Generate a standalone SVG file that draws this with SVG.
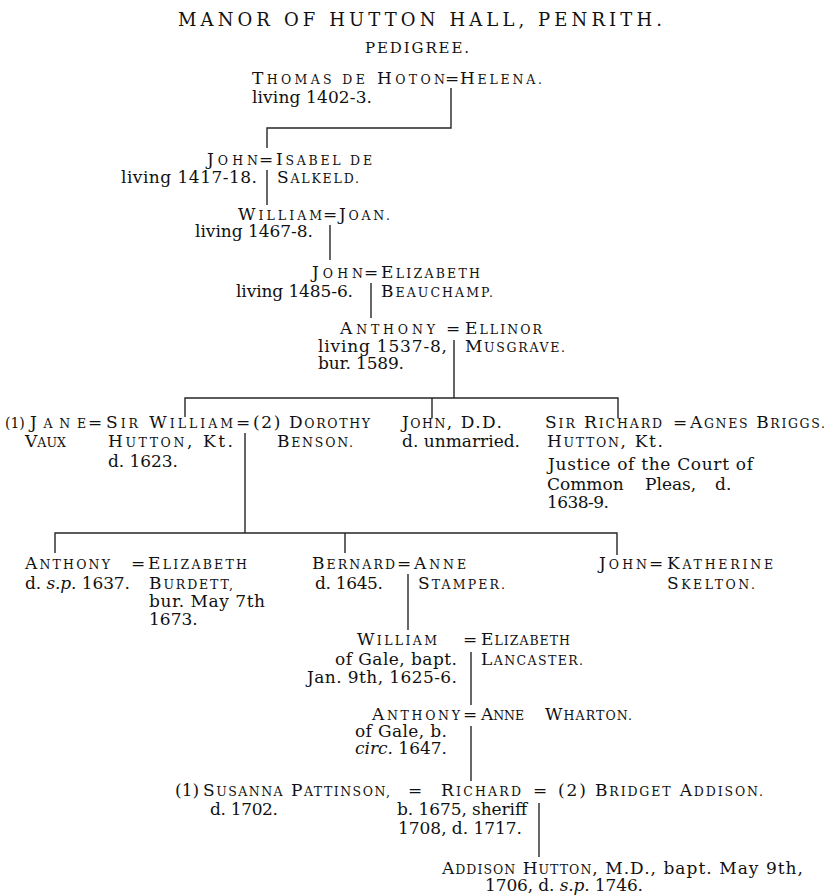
<svg xmlns="http://www.w3.org/2000/svg" width="833" height="895" viewBox="0 0 833 895">
<style>
text { font-family: "DejaVu Serif", "Liberation Serif", serif; font-size: 17px; fill: #111111; }
.s { font-size: 12.5px; }
.i { font-style: italic; }
.ttl { font-size: 18px; }
.sub { font-size: 15px; }
.ln { stroke: #262626; stroke-width: 1.4; fill: none; }
</style>
<rect width="833" height="895" fill="#ffffff"/>

<g id="heading">
<text class="ttl" x="178" y="26" textLength="484" lengthAdjust="spacing">MANOR OF HUTTON HALL, PENRITH.</text>
<text class="sub" x="365" y="53" textLength="104" lengthAdjust="spacing">PEDIGREE.</text>
</g>

<g id="connectors">
<path class="ln" d="M451,88 V128 H267 V148"/>
<path class="ln" d="M267,170 V205"/>
<path class="ln" d="M330,225 V260"/>
<path class="ln" d="M371,283 V318"/>
<path class="ln" d="M454,340 V398 M185,417 V398 H618 V418 M432,398 V418"/>
<path class="ln" d="M245,433 V533 M55,553 V533 H617 V555 M345,533 V553"/>
<path class="ln" d="M408,574 V630"/>
<path class="ln" d="M471,652 V705"/>
<path class="ln" d="M471,726 V781"/>
<path class="ln" d="M539,803 V857"/>
</g>

<g id="thomas-de-hoton">
<text x="252" y="84" textLength="193" lengthAdjust="spacing">T<tspan class="s">HOMAS DE</tspan> H<tspan class="s">OTON</tspan></text>
<text x="445" y="84">=</text>
<text x="460" y="84" textLength="82" lengthAdjust="spacing">H<tspan class="s">ELENA.</tspan></text>
<text x="252" y="103" textLength="120" lengthAdjust="spacing">living 1402-3.</text>
</g>

<g id="john-1">
<text x="207" y="165" textLength="51" lengthAdjust="spacing">J<tspan class="s">OHN</tspan></text>
<text x="259" y="165">=</text>
<text x="276" y="165" textLength="96" lengthAdjust="spacing">I<tspan class="s">SABEL DE</tspan></text>
<text x="121" y="183" textLength="136" lengthAdjust="spacing">living 1417-18.</text>
<text x="277" y="183" textLength="82" lengthAdjust="spacing">S<tspan class="s">ALKELD.</tspan></text>
</g>

<g id="william-1">
<text x="238" y="220" textLength="84" lengthAdjust="spacing">W<tspan class="s">ILLIAM</tspan></text>
<text x="323" y="220">=</text>
<text x="339" y="220" textLength="51" lengthAdjust="spacing">J<tspan class="s">OAN.</tspan></text>
<text x="195" y="237" textLength="118" lengthAdjust="spacing">living 1467-8.</text>
</g>

<g id="john-2">
<text x="312" y="278" textLength="51" lengthAdjust="spacing">J<tspan class="s">OHN</tspan></text>
<text x="364" y="278">=</text>
<text x="381" y="278" textLength="99" lengthAdjust="spacing">E<tspan class="s">LIZABETH</tspan></text>
<text x="236" y="297" textLength="117" lengthAdjust="spacing">living 1485-6.</text>
<text x="381" y="297" textLength="112" lengthAdjust="spacing">B<tspan class="s">EAUCHAMP.</tspan></text>
</g>

<g id="anthony-1">
<text x="340" y="334" textLength="95" lengthAdjust="spacing">A<tspan class="s">NTHONY</tspan></text>
<text x="446" y="334">=</text>
<text x="465" y="334" textLength="77" lengthAdjust="spacing">E<tspan class="s">LLINOR</tspan></text>
<text x="318" y="352" textLength="129" lengthAdjust="spacing">living 1537-8,</text>
<text x="318" y="369" textLength="86" lengthAdjust="spacing">bur. 1589.</text>
<text x="465" y="352" textLength="100" lengthAdjust="spacing">M<tspan class="s">USGRAVE.</tspan></text>
</g>

<g id="sir-william">
<text x="5" y="428" style="font-size:14px">(1)</text>
<text x="30" y="428" textLength="56" lengthAdjust="spacing">J<tspan class="s">ANE</tspan></text>
<text x="88" y="428">=</text>
<text x="106" y="428" textLength="127" lengthAdjust="spacing">S<tspan class="s">IR</tspan> W<tspan class="s">ILLIAM</tspan></text>
<text x="236" y="428">=</text>
<text x="253" y="428" textLength="117" lengthAdjust="spacing">(2) D<tspan class="s">OROTHY</tspan></text>
<text x="25" y="447" textLength="41" lengthAdjust="spacing">V<tspan class="s">AUX</tspan></text>
<text x="108" y="447" textLength="125" lengthAdjust="spacing">H<tspan class="s">UTTON</tspan>, Kt.</text>
<text x="277" y="447" textLength="76" lengthAdjust="spacing">B<tspan class="s">ENSON.</tspan></text>
<text x="108" y="467" textLength="70" lengthAdjust="spacing">d. 1623.</text>
</g>

<g id="john-dd">
<text x="402" y="428" textLength="100" lengthAdjust="spacing">J<tspan class="s">OHN</tspan>, D.D.</text>
<text x="402" y="447" textLength="118" lengthAdjust="spacing">d. unmarried.</text>
</g>

<g id="sir-richard">
<text x="545" y="428" textLength="117" lengthAdjust="spacing">S<tspan class="s">IR</tspan> R<tspan class="s">ICHARD</tspan></text>
<text x="673" y="428">=</text>
<text x="690" y="428" textLength="135" lengthAdjust="spacing">A<tspan class="s">GNES</tspan> B<tspan class="s">RIGGS.</tspan></text>
<text x="547" y="447" textLength="116" lengthAdjust="spacing">H<tspan class="s">UTTON</tspan>, Kt.</text>
<text x="548" y="470" textLength="205" lengthAdjust="spacing">Justice of the Court of</text>
<text x="547" y="490">Common</text>
<text x="645" y="490">Pleas,</text>
<text x="715" y="490">d.</text>
<text x="547" y="508" textLength="62" lengthAdjust="spacing">1638-9.</text>
</g>

<g id="anthony-2">
<text x="25" y="569" textLength="85" lengthAdjust="spacing">A<tspan class="s">NTHONY</tspan></text>
<text x="131" y="569">=</text>
<text x="148" y="569" textLength="99" lengthAdjust="spacing">E<tspan class="s">LIZABETH</tspan></text>
<text x="25" y="589" textLength="105" lengthAdjust="spacing">d. <tspan class="i">s.p.</tspan> 1637.</text>
<text x="149" y="589" textLength="84" lengthAdjust="spacing">B<tspan class="s">URDETT,</tspan></text>
<text x="149" y="607" textLength="116" lengthAdjust="spacing">bur. May 7th</text>
<text x="149" y="625">1673.</text>
</g>

<g id="bernard">
<text x="312" y="569" textLength="83" lengthAdjust="spacing">B<tspan class="s">ERNARD</tspan></text>
<text x="397" y="569">=</text>
<text x="414" y="569" textLength="52" lengthAdjust="spacing">A<tspan class="s">NNE</tspan></text>
<text x="315" y="589" textLength="68" lengthAdjust="spacing">d. 1645.</text>
<text x="418" y="589" textLength="87" lengthAdjust="spacing">S<tspan class="s">TAMPER.</tspan></text>
</g>

<g id="john-3">
<text x="599" y="569" textLength="48" lengthAdjust="spacing">J<tspan class="s">OHN</tspan></text>
<text x="649" y="569">=</text>
<text x="667" y="569" textLength="106" lengthAdjust="spacing">K<tspan class="s">ATHERINE</tspan></text>
<text x="667" y="589" textLength="88" lengthAdjust="spacing">S<tspan class="s">KELTON.</tspan></text>
</g>

<g id="william-of-gale">
<text x="357" y="645" textLength="80" lengthAdjust="spacing">W<tspan class="s">ILLIAM</tspan></text>
<text x="463" y="645">=</text>
<text x="481" y="645" textLength="89" lengthAdjust="spacing">E<tspan class="s">LIZABETH</tspan></text>
<text x="335" y="665" textLength="122" lengthAdjust="spacing">of Gale, bapt.</text>
<text x="481" y="665" textLength="102" lengthAdjust="spacing">L<tspan class="s">ANCASTER.</tspan></text>
<text x="307" y="683" textLength="150" lengthAdjust="spacing">Jan. 9th, 1625-6.</text>
</g>

<g id="anthony-of-gale">
<text x="372" y="720" textLength="88" lengthAdjust="spacing">A<tspan class="s">NTHONY</tspan></text>
<text x="463" y="720">=</text>
<text x="481" y="720" textLength="43" lengthAdjust="spacing">A<tspan class="s">NNE</tspan></text>
<text x="545" y="720" textLength="87" lengthAdjust="spacing">W<tspan class="s">HARTON.</tspan></text>
<text x="355" y="737" textLength="92" lengthAdjust="spacing">of Gale, b.</text>
<text x="355" y="754" textLength="92" lengthAdjust="spacing"><tspan class="i">circ.</tspan> 1647.</text>
</g>

<g id="richard">
<text x="175" y="796">(1)</text>
<text x="203" y="796" textLength="187" lengthAdjust="spacing">S<tspan class="s">USANNA</tspan> P<tspan class="s">ATTINSON,</tspan></text>
<text x="408" y="796">=</text>
<text x="441" y="796" textLength="80" lengthAdjust="spacing">R<tspan class="s">ICHARD</tspan></text>
<text x="533" y="796">=</text>
<text x="558" y="796" textLength="205" lengthAdjust="spacing">(2) B<tspan class="s">RIDGET</tspan> A<tspan class="s">DDISON.</tspan></text>
<text x="210" y="815" textLength="68" lengthAdjust="spacing">d. 1702.</text>
<text x="397" y="815" textLength="130" lengthAdjust="spacing">b. 1675, sheriff</text>
<text x="398" y="834" textLength="124" lengthAdjust="spacing">1708, d. 1717.</text>
</g>

<g id="addison-hutton">
<text x="442" y="874" textLength="361" lengthAdjust="spacing">A<tspan class="s">DDISON</tspan> H<tspan class="s">UTTON</tspan>, M.D., bapt. May 9th,</text>
<text x="485" y="891" textLength="158" lengthAdjust="spacing">1706, d. <tspan class="i">s.p.</tspan> 1746.</text>
</g>
</svg>
